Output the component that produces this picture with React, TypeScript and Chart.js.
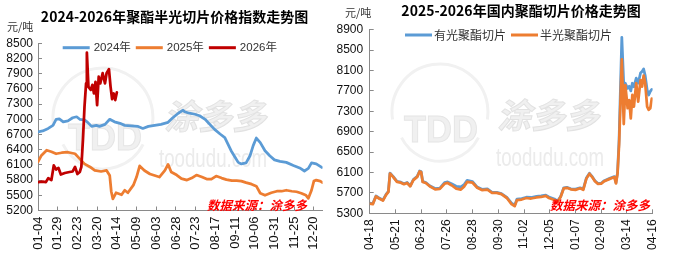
import React, { useEffect, useRef } from "react";
import { Chart, registerables } from "chart.js";
Chart.register(...registerables);

// ---------- Left chart data: 2024-2026 半光切片价格指数 (day offset from 01-04) ----------
const leftDays2024 = [0, 6, 13, 19, 23, 27, 32, 38, 44, 49, 53, 59, 63, 68, 74, 78, 85, 91, 97, 104, 110, 118, 127, 133, 140, 148, 156, 165, 171, 178, 184, 186, 192, 199, 205, 212, 218, 224, 231, 237, 241, 245, 250, 254, 258, 264, 269, 273, 277, 282, 288, 294, 300, 307, 315, 324, 332, 338, 343, 347, 353, 360];
const leftVals2024 = [6750, 6770, 6820, 6880, 7000, 7010, 6950, 6970, 7030, 7050, 7000, 6990, 6940, 6860, 6880, 6860, 6900, 7000, 6950, 6920, 6880, 6870, 6860, 6820, 6860, 6880, 6900, 6940, 7030, 7120, 7180, 7150, 7120, 7100, 7070, 7000, 6900, 6800, 6710, 6640, 6510, 6380, 6250, 6150, 6120, 6140, 6280, 6480, 6630, 6540, 6380, 6280, 6200, 6170, 6150, 6090, 6040, 5980, 6030, 6140, 6120, 6050];

const leftDays2025 = [0, 4, 11, 17, 23, 30, 38, 47, 53, 59, 66, 72, 80, 87, 91, 93, 95, 99, 106, 110, 114, 121, 125, 129, 135, 142, 148, 154, 161, 165, 169, 176, 182, 189, 195, 201, 208, 214, 220, 226, 233, 239, 246, 252, 258, 264, 271, 277, 282, 288, 296, 303, 309, 315, 322, 328, 334, 340, 343, 347, 350, 353, 358, 361];
const leftVals2025 = [6160, 6280, 6390, 6360, 6320, 6340, 6350, 6320, 6220, 6120, 6060, 5990, 5970, 5990, 5890, 5570, 5430, 5550, 5510, 5600, 5550, 5700, 5860, 6080, 5990, 5920, 5890, 5860, 5990, 6110, 5960, 5900, 5830, 5800, 5840, 5900, 5860, 5820, 5820, 5880, 5840, 5810, 5790, 5790, 5780, 5750, 5720, 5680, 5540, 5500, 5550, 5580, 5580, 5600, 5580, 5570, 5540, 5500, 5440, 5600, 5780, 5800, 5780, 5750];

const leftDays2026 = [0, 6, 10, 13, 17, 20, 23, 26, 29, 34, 40, 44, 47, 50, 53, 55, 57, 59, 61, 62, 64, 67, 69, 71, 73, 75, 77, 79, 82, 85, 87, 90, 92, 94, 96, 98, 100];
const leftVals2026 = [5760, 5770, 5760, 5840, 5800, 6090, 6010, 6040, 5910, 5940, 5960, 5970, 6060, 5920, 5960, 6060, 6590, 7250, 7710, 8315, 7640, 7580, 7680, 7510, 7740, 7280, 7840, 7710, 7910, 7710, 7910, 7990, 7650, 7400, 7510, 7380, 7530];

const leftTickDays = [0, 25, 50, 75, 100, 125, 150, 175, 200, 225, 250, 275, 300, 325, 350];
const leftTickLabels = ["01-04", "01-29", "02-23", "03-20", "04-14", "05-09", "06-03", "06-28", "07-23", "08-17", "09-11", "10-06", "10-31", "11-25", "12-20"];

// ---------- Right chart data: 2025-2026 国内聚酯切片 (day offset from 2025-04-18) ----------
const rightDays = [0, 4, 8, 12, 17, 21, 24, 26, 30, 35, 40, 44, 48, 52, 56, 61, 64, 66, 68, 72, 77, 84, 90, 96, 100, 105, 111, 117, 121, 125, 132, 138, 144, 151, 157, 163, 169, 176, 182, 186, 189, 195, 201, 207, 214, 220, 226, 230, 237, 241, 245, 249, 253, 258, 264, 270, 274, 278, 282, 285, 289, 293, 297, 301, 308, 314, 316, 318, 320, 322, 323.5, 326, 328, 331, 333, 335, 337, 339, 342, 344.5, 347.5, 349.5, 351.5, 353.5, 356, 358, 360, 362];
const rightSemiDull = [5490, 5480, 5630, 5590, 5550, 5660, 5720, 6080, 6015, 5915, 5900, 5870, 5895, 5830, 5950, 6015, 6120, 6110, 5915, 5895, 5830, 5770, 5780, 5880, 5895, 5850, 5785, 5765, 5820, 5915, 5900, 5800, 5755, 5765, 5700, 5700, 5675, 5600, 5480, 5440, 5560, 5570, 5600, 5590, 5610, 5620, 5640, 5600, 5560, 5525, 5620, 5790, 5800, 5770, 5760, 5790, 5760, 5980, 6075, 6020, 5930, 5875, 5880, 5930, 5975, 6010, 5885, 6080, 6650, 7600, 8320, 7050, 7815, 7360, 7520, 7160, 7620, 7390, 7850, 7490, 7910, 7785, 8000, 7850, 7390, 7330, 7360, 7550];
const rightBright = [5500, 5490, 5640, 5600, 5560, 5670, 5730, 6090, 6025, 5925, 5910, 5880, 5905, 5840, 5960, 6025, 6130, 6120, 5925, 5905, 5840, 5785, 5795, 5900, 5915, 5880, 5830, 5820, 5860, 5945, 5920, 5815, 5770, 5780, 5710, 5710, 5685, 5610, 5500, 5460, 5580, 5590, 5615, 5610, 5630, 5640, 5655, 5620, 5580, 5540, 5630, 5800, 5810, 5780, 5775, 5800, 5775, 5990, 6085, 6030, 5940, 5885, 5890, 5940, 5985, 6020, 5900, 6100, 6750, 7900, 8750, 7820, 7850, 7750, 7790, 7700, 7850, 7780, 7950, 7850, 8050, 8080, 8130, 8000, 7720, 7620, 7690, 7730];

const rightTickDays = [0, 33, 66, 99, 132, 165, 198, 231, 264, 297, 330, 363];
const rightTickLabels = ["04-18", "05-21", "06-23", "07-26", "08-28", "09-30", "11-02", "12-05", "01-07", "02-09", "03-14", "04-16"];

const BLUE = "#5B9BD5";
const ORANGE = "#ED7D31";
const RED = "#C00000";
const AXIS = "#8a8a8a";
const CJK = '"Noto Sans CJK SC"';

const pts = (days: number[], vals: number[]) => days.map((d, i) => ({ x: d, y: vals[i] }));

type Deco = {
  title: string; titleX: number; titleY: number;
  unitX: number; unitY: number;
  legendX: number; legendY: number; legendFont: string; legendGap1: number; legendGap2: number;
  wm: { cx: number; cy: number; r: number; tddX: number; tddY: number; cnX: number; cnY: number; enX: number; enY: number };
  srcX: number; srcY: number;
};

function decoPlugin(d: Deco) {
  return {
    id: "deco",
    beforeDatasetsDraw(chart: any) {
      const ctx = chart.ctx as CanvasRenderingContext2D;
      const w = d.wm;
      ctx.save();
      ctx.strokeStyle = "#f1f1f1";
      ctx.lineWidth = 3;
      ctx.beginPath();
      ctx.arc(w.cx, w.cy, w.r, Math.PI * 0.95, Math.PI * 2.05);
      ctx.stroke();
      ctx.beginPath();
      ctx.arc(w.cx, w.cy + 6, w.r * 0.9, Math.PI * 0.15, Math.PI * 0.85);
      ctx.stroke();
      ctx.textAlign = "center";
      ctx.textBaseline = "middle";
      ctx.fillStyle = "#f0f0f0";
      ctx.strokeStyle = "#e6e6e6";
      ctx.lineWidth = 1;
      ctx.font = 'bold 36px "Liberation Sans"';
      ctx.fillText("TDD", w.tddX, w.tddY);
      ctx.strokeText("TDD", w.tddX, w.tddY);
      ctx.font = `italic bold 34px ${CJK}`;
      ctx.fillStyle = "#f0f0f0";
      ctx.strokeStyle = "#e2e2e2";
      ctx.fillText("涂多多", w.cnX, w.cnY);
      ctx.strokeText("涂多多", w.cnX, w.cnY);
      ctx.font = '26px "Liberation Sans"';
      ctx.fillStyle = "#ebebeb";
      ctx.fillText("toodudu.com", w.enX, w.enY, 108);
      ctx.restore();
    },
    afterDraw(chart: any) {
      const ctx = chart.ctx as CanvasRenderingContext2D;
      ctx.save();
      ctx.textBaseline = "middle";
      ctx.textAlign = "center";
      ctx.fillStyle = "#000";
      ctx.font = `bold 14px ${CJK}`;
      ctx.fillText(d.title, d.titleX, d.titleY);
      ctx.textAlign = "left";
      ctx.font = `11px ${CJK}`;
      ctx.fillStyle = "#333";
      ctx.fillText("元/吨", d.unitX, d.unitY);
      let x = d.legendX;
      ctx.font = d.legendFont;
      chart.data.datasets.forEach((ds: any) => {
        ctx.strokeStyle = ds.borderColor;
        ctx.lineWidth = 3;
        ctx.beginPath();
        ctx.moveTo(x, d.legendY);
        ctx.lineTo(x + 27, d.legendY);
        ctx.stroke();
        x += 27 + d.legendGap1;
        ctx.fillStyle = "#333";
        ctx.fillText(ds.label, x, d.legendY);
        x += ctx.measureText(ds.label).width + d.legendGap2;
      });
      ctx.textAlign = "center";
      ctx.fillStyle = "#ff0000";
      ctx.font = `italic bold 12.5px ${CJK}`;
      ctx.fillText("数据来源：涂多多", d.srcX, d.srcY);
      ctx.restore();
    },
  };
}

function makeConfig(opts: {
  datasets: any[]; min: number; max: number; step: number; xMax: number;
  tickDays: number[]; tickLabels: string[]; yWidth: number; xHeight: number;
  padding: any; xFont: number; yPad: number; deco: Deco;
}) {
  return {
    type: "line",
    data: { datasets: opts.datasets },
    options: {
      animation: false,
      responsive: false,
      maintainAspectRatio: false,
      layout: { padding: opts.padding },
      elements: { point: { radius: 0 }, line: { tension: 0, borderJoinStyle: "round", borderCapStyle: "round" } },
      plugins: { legend: { display: false }, tooltip: { enabled: false }, title: { display: false } },
      scales: {
        x: {
          type: "linear",
          min: 0,
          max: opts.xMax,
          afterBuildTicks: (scale: any) => {
            scale.ticks = opts.tickDays.map((v) => ({ value: v }));
          },
          afterFit: (scale: any) => { scale.height = opts.xHeight; },
          border: { display: true, color: AXIS, width: 1 },
          grid: { display: true, drawOnChartArea: false, drawTicks: true, tickLength: -4, color: AXIS },
          ticks: {
            autoSkip: false,
            maxRotation: 90,
            minRotation: 90,
            padding: 10,
            color: "#111",
            font: { family: '"Liberation Sans", Arial', size: opts.xFont },
            callback: (v: number) => {
              const i = opts.tickDays.indexOf(v);
              return i >= 0 ? opts.tickLabels[i] : "";
            },
          },
        },
        y: {
          min: opts.min,
          max: opts.max,
          afterFit: (scale: any) => { scale.width = opts.yWidth; },
          border: { display: true, color: AXIS, width: 1 },
          grid: { display: true, drawOnChartArea: false, drawTicks: true, tickLength: -4, color: AXIS },
          ticks: {
            stepSize: opts.step,
            maxTicksLimit: 30,
            autoSkip: false,
            padding: opts.yPad,
            color: "#111",
            font: { family: '"Liberation Sans", Arial', size: 12 },
            callback: (v: number) => String(v),
          },
        },
      },
    },
    plugins: [decoPlugin(opts.deco)],
  };
}

function ChartCanvas({ config, width, height, left }: { config: () => any; width: number; height: number; left: number }) {
  const ref = useRef<HTMLCanvasElement>(null);
  useEffect(() => {
    const chart = new Chart(ref.current as HTMLCanvasElement, config());
    return () => chart.destroy();
  }, []);
  return (
    <canvas
      ref={ref}
      width={width}
      height={height}
      style={{ position: "absolute", left, top: 0, width, height }}
    />
  );
}

const lineDs = (label: string, color: string, data: any[], order: number) => ({
  label,
  data,
  borderColor: color,
  backgroundColor: color,
  borderWidth: 2.75,
  pointRadius: 0,
  fill: false,
  order,
});

export default function App() {
  const leftConfig = () =>
    makeConfig({
      datasets: [
        lineDs("2024年", BLUE, pts(leftDays2024, leftVals2024), 2),
        lineDs("2025年", ORANGE, pts(leftDays2025, leftVals2025), 1),
        lineDs("2026年", RED, pts(leftDays2026, leftVals2026), 0),
      ],
      min: 5200, max: 8500, step: 300, xMax: 361,
      tickDays: leftTickDays, tickLabels: leftTickLabels,
      yWidth: 38, xHeight: 48.5, xFont: 13, yPad: 9,
      padding: { top: 43.3, right: 17, left: 0, bottom: 0 },
      deco: {
        title: "2024-2026年聚酯半光切片价格指数走势图", titleX: 174.5, titleY: 16.5,
        unitX: 7, unitY: 27,
        legendX: 62.7, legendY: 47.7, legendFont: `11.5px "Liberation Sans", ${CJK}`, legendGap1: 4, legendGap2: 5,
        wm: { cx: 103, cy: 118, r: 50, tddX: 105, tddY: 140, cnX: 215, cnY: 116, enX: 213, enY: 160 },
        srcX: 257, srcY: 205,
      },
    });
  const rightConfig = () =>
    makeConfig({
      datasets: [
        lineDs("有光聚酯切片", BLUE, pts(rightDays, rightBright), 1),
        lineDs("半光聚酯切片", ORANGE, pts(rightDays, rightSemiDull), 0),
      ],
      min: 5300, max: 8900, step: 400, xMax: 363,
      tickDays: rightTickDays, tickLabels: rightTickLabels,
      yWidth: 39.7, xHeight: 45.7, xFont: 12, yPad: 10.5,
      padding: { top: 29.7, right: 18, left: 0, bottom: 0 },
      deco: {
        title: "2025-2026年国内聚酯切片价格走势图", titleX: 191, titleY: 11,
        unitX: 15, unitY: 12.5,
        legendX: 75, legendY: 35, legendFont: `12px ${CJK}`, legendGap1: 2, legendGap2: 5,
        wm: { cx: 110, cy: 112, r: 48, tddX: 111, tddY: 132, cnX: 218, cnY: 115, enX: 220, enY: 159 },
        srcX: 270, srcY: 205,
      },
    });
  return (
    <div style={{ position: "absolute", left: 0, top: 0, width: 677, height: 259, background: "#fff", overflow: "hidden" }}>
      <ChartCanvas config={leftConfig} width={340} height={259} left={0} />
      <ChartCanvas config={rightConfig} width={347} height={259} left={330} />
    </div>
  );
}
